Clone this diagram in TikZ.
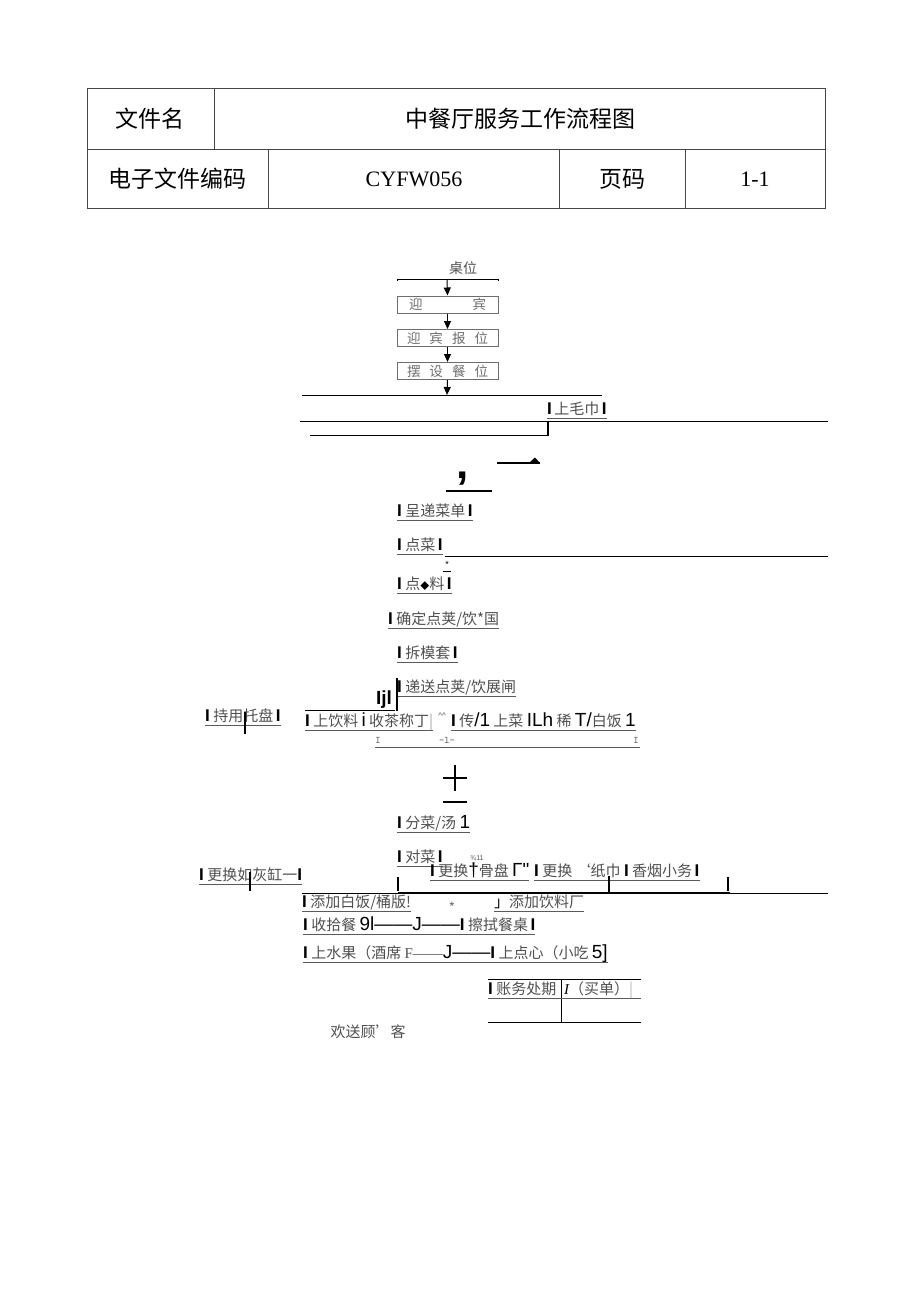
\documentclass[tikz,border=0pt]{standalone}
\usepackage{fontspec}
\setmainfont{Noto Sans CJK SC}
\newfontfamily\tms{Liberation Serif}
\newfontfamily\ars{Liberation Sans}
\usetikzlibrary{arrows.meta}
\definecolor{lbl}{RGB}{80,80,80}
\definecolor{ulc}{RGB}{90,90,90}
\definecolor{tblc}{RGB}{70,70,70}
\definecolor{boxc}{RGB}{110,110,110}
\newcommand\mybar{{\color{black}\ars\bfseries\fontsize{17}{17}\selectfont I}}
\newcommand\myA[1]{{\color{black}\ars\fontsize{19}{19}\selectfont #1}}
\begin{document}
\begin{tikzpicture}[x=1pt,y=-1pt,
  th/.style={inner sep=0, font=\fontsize{23}{25}\selectfont, text=black},
  tn/.style={inner sep=0, font=\tms\fontsize{22}{24}\selectfont, text=black},
  lb/.style={anchor=west, inner sep=0, text height=11pt, text depth=3pt, font=\fontsize{15}{17}\selectfont, text=lbl},
  ul/.style={draw=ulc, line width=0.9pt},
  rl/.style={draw=black, line width=0.8pt},
  boxn/.style={draw=boxc, line width=1pt, minimum width=101pt, minimum height=17pt, inner sep=0, font=\fontsize{13.5}{14}\selectfont, text=boxc},
  arr/.style={draw=black, line width=1pt, -{Triangle[length=8pt,width=7pt]}},
  tk/.style={draw=black, line width=2pt}
]
\useasboundingbox (0,0) rectangle (920,1301);
\fill[white] (0,0) rectangle (920,1301);
% header table
\draw[draw=tblc, line width=0.8pt] (87,88) rectangle (825,208);
\draw[draw=tblc, line width=0.8pt] (87,149) -- (825,149);
\draw[draw=tblc, line width=0.8pt] (214,88) -- (214,149);
\draw[draw=tblc, line width=0.8pt] (268,149) -- (268,208);
\draw[draw=tblc, line width=0.8pt] (559,149) -- (559,208);
\draw[draw=tblc, line width=0.8pt] (685,149) -- (685,208);
\node[th] (h1) at (150,119) {文件名};
\node[th] (h2) at (520,119) {中餐厅服务工作流程图};
\node[th] (h3) at (177,179) {电子文件编码};
\node[tn] (h4) at (414,179) {CYFW056};
\node[th] (h5) at (622,179) {页码};
\node[tn] (h6) at (755,179) {1-1};
% top chain
\node[inner sep=0, font=\fontsize{14}{16}\selectfont, text=lbl] (zw) at (463,268) {桌位};
\draw[rl] (397,281) -- (397,279) -- (498,279) -- (498,281);
\coordinate (l0) at (447,279);
\node[boxn] (b1) at (447.5,304.5) {迎\hspace{50pt}宾};
\node[boxn] (b2) at (447.5,338) {迎\hspace{9pt}宾\hspace{9pt}报\hspace{9pt}位};
\node[boxn] (b3) at (447.5,371) {摆\hspace{9pt}设\hspace{9pt}餐\hspace{9pt}位};
\coordinate (l1) at (447,395);
\draw[arr] (l0) -- (b1.north);
\draw[arr] (b1.south) -- (b2.north);
\draw[arr] (b2.south) -- (b3.north);
\draw[arr] (b3.south) -- (l1);
\draw[rl] (302,395) -- (602,395);
% 上毛巾
\node[lb] (m0) at (547,410) {\mybar\,上毛巾\,\mybar};
\draw[ul] ([yshift=-4pt]m0.base west) -- ([yshift=-4pt]m0.base east);
\draw[rl] (300,421) -- (828,421);
\draw[draw=black, line width=1.6pt] (548,421) -- (548,436);
\draw[rl] (310,435) -- (548,435);
% comma and dash
\node[inner sep=0, font=\ars\bfseries\fontsize{44}{44}\selectfont] (cm) at (463,479) {,};
\draw[draw=black, line width=2pt] (446,491) -- (492,491);
\draw[draw=black, line width=2pt] (497,463) -- (540,463);
\fill[black] (529,463) -- (535,457.5) -- (540,463) -- cycle;
% list
\node[lb] (m1) at (397,512) {\mybar\ 呈递菜单\,\mybar};
\draw[ul] ([yshift=-4pt]m1.base west) -- ([yshift=-4pt]m1.base east);
\node[lb] (m2) at (397,546) {\mybar\ 点菜\,\mybar};
\draw[ul] ([yshift=-4pt]m2.base west) -- ([yshift=-4pt]m2.base east);
\draw[rl] (445,556) -- (828,556);
\node[inner sep=0, font=\ars\fontsize{9}{9}\selectfont] (st1) at (447,564) {*};
\draw[draw=black, line width=0.7pt] (443,571) -- (451,571);
\node[lb] (m3) at (397,585) {\mybar\ 点{\fontsize{9}{9}\selectfont\color{black}◆}料\,\mybar};
\draw[ul] ([yshift=-4pt]m3.base west) -- ([yshift=-4pt]m3.base east);
\node[lb] (m4) at (388,620) {\mybar\ 确定点荚/饮*国};
\draw[ul] ([yshift=-4pt]m4.base west) -- ([yshift=-4pt]m4.base east);
\node[lb] (m5) at (397,654) {\mybar\ 拆模套\,\mybar};
\draw[ul] ([yshift=-4pt]m5.base west) -- ([yshift=-4pt]m5.base east);
\node[lb] (m6) at (397,688) {\mybar\ 递送点荚/饮展闸};
\draw[ul] ([yshift=-4pt]m6.base west) -- ([yshift=-4pt]m6.base east);
\draw[draw=black, line width=2pt] (397,678) -- (397,711);
\node[inner sep=0, font=\ars\bfseries\fontsize{19}{19}\selectfont] (ij) at (384,700) {Ijl};
\draw[rl] (305,710) -- (395,710);
% left 持用托盘
\node[lb] (m7) at (205,717) {\mybar\ 持用托盘\,\mybar};
\draw[ul] ([yshift=-4pt]m7.base west) -- ([yshift=-4pt]m7.base east);
\draw[tk] (245,712) -- (245,734);
% row 上饮料
\node[lb] (m8) at (305,722) {\mybar\ 上饮料 \myA{i} 收茶称丁{\color{lbl!50}|}};
\draw[ul] ([yshift=-4pt]m8.base west) -- ([yshift=-4pt]m8.base east);
\node[inner sep=0, font=\ars\fontsize{8}{8}\selectfont, text=lbl] (cc) at (442,716) {\textasciicircum\textasciicircum};
\node[lb] (m9) at (451,722) {\mybar\ 传\myA{/1} 上菜 \myA{ILh} 稀 \myA{T/}白饭 \myA{1}};
\draw[ul] ([yshift=-4pt]m9.base west) -- ([yshift=-4pt]m9.base east);
\node[inner sep=0, font=\ttfamily\fontsize{10}{10}\selectfont, text=lbl] (s1) at (378,740) {I};
\node[inner sep=0, font=\ttfamily\fontsize{10}{10}\selectfont, text=lbl] (s2) at (447,740) {-l-};
\node[inner sep=0, font=\ttfamily\fontsize{10}{10}\selectfont, text=lbl] (s3) at (636,740) {I};
\draw[ul] (375,747) -- (640,747);
% plus and dash
\draw[draw=black, line width=1.6pt] (443,778) -- (467,778);
\draw[draw=black, line width=1.6pt] (455,765) -- (455,791);
\draw[draw=black, line width=2pt] (443,802) -- (467,802);
\node[lb] (m10) at (397,824) {\mybar\ 分菜/汤 \myA{1}};
\draw[ul] ([yshift=-4pt]m10.base west) -- ([yshift=-4pt]m10.base east);
\node[lb] (m11) at (397,858) {\mybar\ 对菜\,\mybar};
\draw[ul] ([yshift=-4pt]m11.base west) -- ([yshift=-4pt]m11.base east);
\node[inner sep=0, font=\ars\fontsize{7}{7}\selectfont, text=lbl] (sp) at (477,858) {¾11};
\node[lb] (m12) at (430,872) {\mybar\ 更换\myA{†}骨盘 \myA{Г"}};
\draw[ul] ([yshift=-4pt]m12.base west) -- ([yshift=-4pt]m12.base east);
\node[lb] (m13) at (534,872) {\mybar\ 更换 ‘纸巾 \mybar\ 香烟小务\,\mybar};
\draw[ul] ([yshift=-4pt]m13.base west) -- ([yshift=-4pt]m13.base east);
\node[lb] (m14) at (199,876) {\mybar\ 更换如灰缸一\mybar};
\draw[ul] ([yshift=-4pt]m14.base west) -- ([yshift=-4pt]m14.base east);
\draw[tk] (250,872) -- (250,891);
\draw[tk] (398,877) -- (398,891);
\draw[tk] (609,876) -- (609,892);
\draw[tk] (728,877) -- (728,891);
\draw[rl] (302,893) -- (828,893);
\draw[draw=black, line width=1.6pt] (398,893) -- (730,893);
\node[lb] (m15) at (302,903) {\mybar\ 添加白饭/桶版!};
\draw[ul] ([yshift=-4pt]m15.base west) -- ([yshift=-4pt]m15.base east);
\node[inner sep=0, font=\ars\fontsize{12}{12}\selectfont, text=lbl] (st2) at (452,906) {*};
\node[lb] (m16) at (494,903) {{\color{black}」}添加饮料厂};
\draw[ul] ([yshift=-4pt]m16.base west) -- ([yshift=-4pt]m16.base east);
\node[lb] (m17) at (303,926) {\mybar\ 收拾餐 \myA{9l——J——}\mybar\ 擦拭餐桌\,\mybar};
\draw[ul] ([yshift=-4pt]m17.base west) -- ([yshift=-4pt]m17.base east);
\node[lb] (m18) at (303,954) {\mybar\ 上水果（酒席 {\tms F——}\myA{J——}\mybar\ 上点心（小吃 \myA{5]}};
\draw[ul] ([yshift=-4pt]m18.base west) -- ([yshift=-4pt]m18.base east);
% bill table
\draw[rl] (488,979) -- (641,979);
\draw[rl] (488,1022) -- (641,1022);
\draw[rl] (561,979) -- (561,1022);
\draw[ul] (488,998) -- (641,998);
\node[lb] (m19) at (488,990) {\mybar\ 账务处期};
\node[lb] (m20) at (564,990) {{\tms\itshape\color{black}I}（买单）{\color{lbl!40}|}};
\node[inner sep=0, font=\fontsize{15}{17}\selectfont, text=lbl] (m21) at (368,1032) {欢送顾’客};
\end{tikzpicture}
\end{document}
